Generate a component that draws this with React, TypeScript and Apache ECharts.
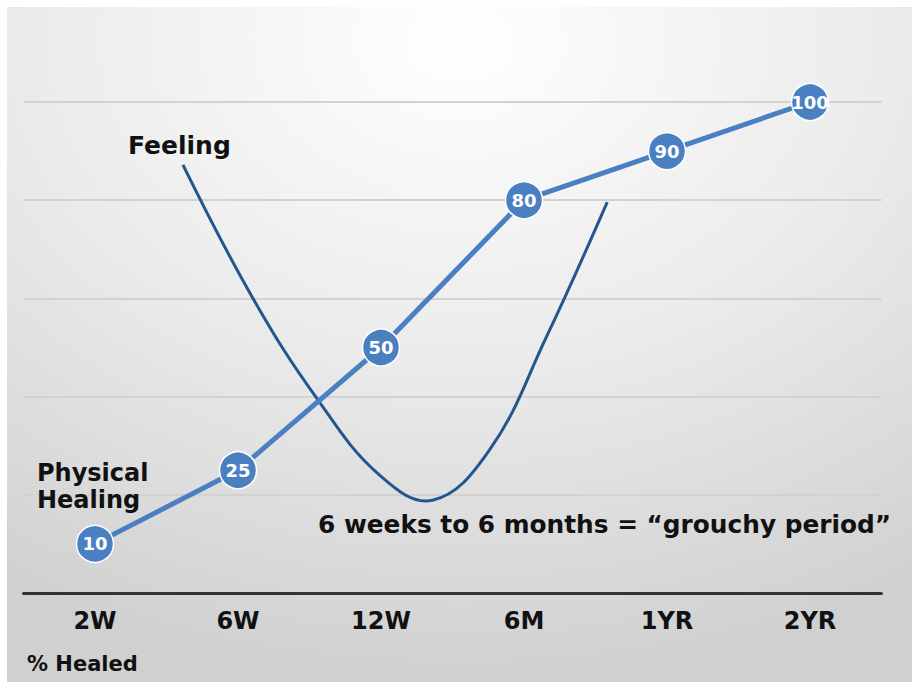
import React, { useEffect, useRef } from "react";
import * as echarts from "echarts";

const categories = ["2W", "6W", "12W", "6M", "1YR", "2YR"];
const healedValues = [10, 25, 50, 80, 90, 100];
// Feeling curve: [position along time axis (category index units), level]
const feelingPoints: [number, number][] = [
  [0.615, 87.2],
  [1.103, 60.1],
  [1.55, 39.7],
  [1.99, 24.0],
  [2.36, 18.9],
  [2.758, 29.1],
  [3.156, 52.1],
  [3.582, 79.6],
];

const FONT = "'DejaVu Sans', Verdana, sans-serif";

export default function App() {
  const ref = useRef<HTMLDivElement>(null);
  useEffect(() => {
    document.body.style.margin = "0";
    const chart = echarts.init(ref.current!, null, { renderer: "svg" });
    chart.setOption({
      animation: false,
      graphic: [
        {
          type: "rect",
          z: -10,
          silent: true,
          shape: { x: 7, y: 7, width: 905, height: 675 },
          style: {
            fill: new echarts.graphic.RadialGradient(0.5, 0.05, 0.95, [
              { offset: 0, color: "#ffffff" },
              { offset: 0.5, color: "#ebebeb" },
              { offset: 1, color: "#d0d0d0" },
            ]),
          },
        },
        {
          type: "text",
          z: 100,
          left: 128,
          top: 133,
          style: { text: "Feeling", font: `bold 25px ${FONT}`, fill: "#111" },
        },
        {
          type: "text",
          z: 100,
          left: 37,
          top: 461,
          style: { text: "Physical", font: `bold 24px ${FONT}`, fill: "#111" },
        },
        {
          type: "text",
          z: 100,
          left: 37,
          top: 488,
          style: { text: "Healing", font: `bold 24px ${FONT}`, fill: "#111" },
        },
        {
          type: "text",
          z: 100,
          left: 318,
          top: 512,
          style: {
            text: "6 weeks to 6 months = \u201cgrouchy period\u201d",
            font: `bold 24.8px ${FONT}`,
            fill: "#111",
          },
        },
        {
          type: "text",
          z: 100,
          left: 27,
          top: 653,
          style: { text: "% Healed", font: `bold 21px ${FONT}`, fill: "#111" },
        },
      ],
      grid: { left: 23.5, right: 33.5, top: 102, bottom: 89, containLabel: false },
      xAxis: [
        {
          type: "category",
          data: categories,
          boundaryGap: true,
          axisLine: { lineStyle: { color: "#333", width: 3 } },
          axisTick: { show: false },
          axisLabel: {
            margin: 16,
            fontSize: 24,
            fontWeight: "bold",
            fontFamily: FONT,
            color: "#111",
          },
        },
        {
          type: "value",
          min: -0.5,
          max: 5.5,
          show: false,
        },
      ],
      yAxis: {
        type: "value",
        min: 0,
        max: 100,
        interval: 20,
        axisLine: { show: false },
        axisTick: { show: false },
        axisLabel: { show: false },
        splitLine: { lineStyle: { color: "#d2d2d2", width: 2 } },
      },
      series: [
        {
          type: "custom",
          xAxisIndex: 1,
          data: feelingPoints,
          z: 2,
          silent: true,
          renderItem: (params: any, api: any) => {
            if (params.dataIndex !== 0) return null;
            const pts = feelingPoints.map((p) => api.coord(p));
            return {
              type: "polyline",
              shape: { points: pts, smooth: 0.4 },
              style: { stroke: "#23568e", lineWidth: 3, fill: "none" },
            };
          },
        },
        {
          type: "line",
          xAxisIndex: 0,
          data: healedValues,
          symbol: "circle",
          symbolSize: 37,
          lineStyle: { color: "#4a7fc1", width: 5 },
          itemStyle: { color: "#4a7fc1", borderColor: "#ffffff", borderWidth: 1.5 },
          label: {
            show: true,
            position: "inside",
            color: "#fff",
            fontSize: 18,
            fontWeight: "bold",
            fontFamily: FONT,
          },
          z: 3,
        },
      ],
    });
    return () => chart.dispose();
  }, []);
  return <div ref={ref} style={{ width: 915, height: 682 }} />;
}
